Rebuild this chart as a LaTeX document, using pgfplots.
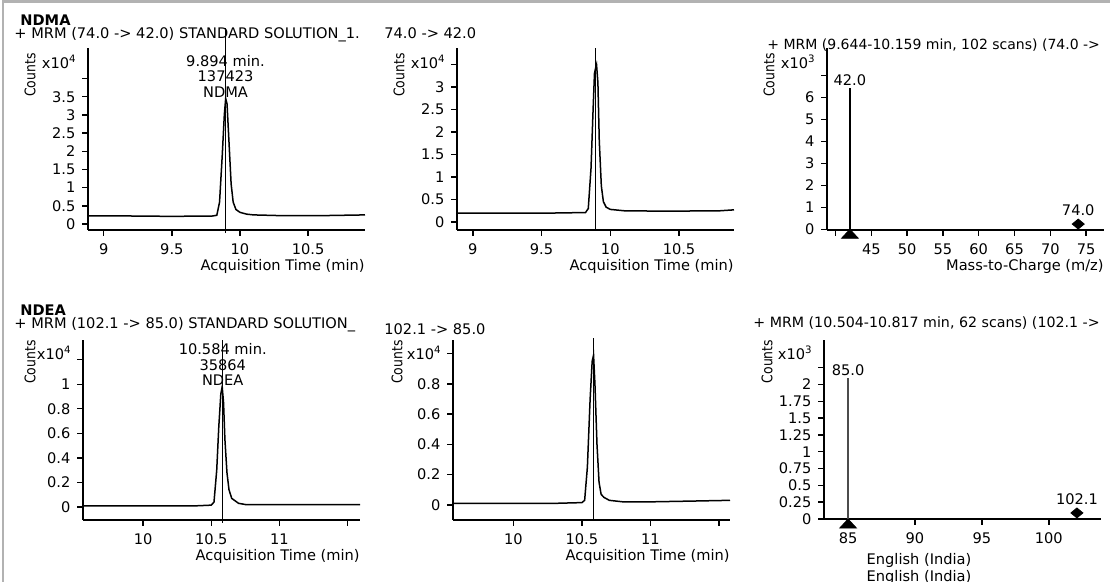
\documentclass[border=0pt]{standalone}
\usepackage{fontspec}
\setmainfont{DejaVu Sans}
\usepackage{graphicx}
\usepackage{pgfplots}
\pgfplotsset{compat=1.18}
\newcommand\fs{\fontsize{7.3pt}{7.6pt}\selectfont}
\pgfplotsset{
  ms/.style={
    anchor=south west, scale only axis, width=138.5pt,
    axis x line*=bottom, axis y line*=left,
    axis line style={-, line width=0.75pt},
    tick align=outside, major tick length=2.8pt,
    tick style={line width=0.7pt, black},
    ticklabel style={font=\fs},
    xticklabel style={yshift=-0.5pt},
    /pgf/number format/assume math mode=true,
    /pgf/number format/fixed, /pgf/number format/precision=2,
    scaled ticks=false,
    extra y tick labels={}, extra x tick labels={},
    clip=false,
    xlabel style={font=\fs, at={(axis description cs:1,0)}, anchor=east, inner sep=0pt, yshift=-18pt},
    ylabel={\scalebox{0.85}[1]{Counts}},
    ylabel style={font=\fs, at={([xshift=-29pt,yshift=-2.5pt]axis description cs:0,1)}, anchor=east, inner sep=0pt},
  },
  trace/.style={black, line width=0.75pt, mark=none},
}
\begin{document}
\begin{tikzpicture}
\useasboundingbox (0,0) rectangle (555pt,-291pt);
\draw[gray!60, line width=1.2pt] (1.5pt,-291pt) -- (1.5pt,-0.8pt) -- (555pt,-0.8pt);

% ---- NDMA quantifier
\begin{axis}[ms, at={(44pt,-115pt)}, height=91pt,
  xmin=8.885, xmax=10.917, ymin=-0.165, ymax=4.84,
  xtick={9,9.5,10,10.5}, ytick={0,0.5,1,1.5,2,2.5,3,3.5}, extra y ticks={4},
  xlabel={Acquisition Time (min)}]
\addplot[trace] coordinates {(8.885,0.22)(9.2,0.22)(9.5,0.21)(9.8,0.22)(9.83,0.24)(9.85,0.6)(9.87,1.9)(9.885,3.0)(9.895,3.45)(9.905,3.3)(9.92,2.2)(9.935,1.1)(9.95,0.6)(9.97,0.4)(10.0,0.32)(10.05,0.27)(10.1,0.25)(10.3,0.23)(10.6,0.23)(10.917,0.25)};
\addplot[trace] coordinates {(9.894,-0.25)(9.894,5.4)};
\node[font=\fs, align=center, anchor=south, inner sep=0.5pt] at (axis cs:9.894,3.45) {9.894 min.\\137423\\NDMA};
\node[font=\fs, anchor=east, inner sep=0pt] at ([xshift=-5.5pt,yshift=-7pt]axis description cs:0,1) {x10\textsuperscript{4}};
\end{axis}

% ---- NDMA qualifier
\begin{axis}[ms, at={(228.5pt,-115pt)}, height=91pt,
  xmin=8.885, xmax=10.9, ymin=-0.178, ymax=3.87,
  xtick={9,9.5,10,10.5}, ytick={0,0.5,1,1.5,2,2.5,3}, extra y ticks={3.5},
  xlabel={Acquisition Time (min)}]
\addplot[trace] coordinates {(8.885,0.20)(9.3,0.20)(9.6,0.20)(9.82,0.21)(9.84,0.3)(9.86,1.2)(9.875,2.5)(9.885,3.3)(9.893,3.42)(9.9,3.5)(9.91,3.1)(9.92,1.8)(9.935,0.8)(9.95,0.45)(9.97,0.33)(10.0,0.28)(10.1,0.25)(10.4,0.24)(10.8,0.25)(10.9,0.27)};
\addplot[trace] coordinates {(9.893,-0.178)(9.893,3.87)};
\node[font=\fs, anchor=east, inner sep=0pt] at ([xshift=-5.5pt,yshift=-7pt]axis description cs:0,1) {x10\textsuperscript{4}};
\end{axis}

% ---- NDMA spectrum
\begin{axis}[ms, at={(413.5pt,-115pt)}, height=91pt,
  xmin=38.8, xmax=77.5, ymin=-0.03, ymax=8.24,
  xtick={45,50,55,60,65,70,75}, extra x ticks={40},
  ytick={0,1,2,3,4,5,6}, extra y ticks={7},
  xlabel={Mass-to-Charge (m/z)}]
\addplot[trace] coordinates {(42.0,0)(42.0,6.4)};
\addplot[only marks, mark=triangle*, mark size=4pt, black, mark options={xscale=1.2, yscale=0.75}] coordinates {(42.0,-0.27)};
\addplot[only marks, mark=diamond*, mark size=4pt, black, mark options={yscale=0.62}] coordinates {(73.9,0.24)};
\node[font=\fs, anchor=south, inner sep=1pt] at (axis cs:42.0,6.4) {42.0};
\node[font=\fs, anchor=south, inner sep=1pt] at ([yshift=3pt]axis cs:73.9,0.24) {74.0};
\node[font=\fs, anchor=east, inner sep=0pt] at ([xshift=-5.5pt,yshift=-7pt]axis description cs:0,1) {x10\textsuperscript{3}};
\end{axis}

% ---- NDEA quantifier
\begin{axis}[ms, at={(41.5pt,-260pt)}, height=90pt,
  xmin=9.56, xmax=11.59, ymin=-0.106, ymax=1.36,
  xtick={10,10.5,11}, extra x ticks={11.5},
  ytick={0,0.2,0.4,0.6,0.8,1}, extra y ticks={1.2},
  xlabel={Acquisition Time (min)},
  ylabel style={at={([xshift=-26.5pt,yshift=0pt]axis description cs:0,1)}}]
\addplot[trace] coordinates {(9.56,0.01)(10.0,0.01)(10.4,0.01)(10.5,0.015)(10.52,0.04)(10.54,0.3)(10.555,0.65)(10.57,0.92)(10.58,0.98)(10.59,0.85)(10.6,0.55)(10.615,0.28)(10.63,0.14)(10.65,0.07)(10.7,0.03)(10.75,0.02)(11.0,0.02)(11.3,0.02)(11.59,0.02)};
\addplot[trace] coordinates {(10.584,-0.13)(10.584,1.36)};
\node[font=\fs, align=center, anchor=south, inner sep=0.5pt] at (axis cs:10.584,0.98) {10.584 min.\\35864\\NDEA};
\node[font=\fs, anchor=east, inner sep=0pt] at ([xshift=-5.5pt,yshift=-6.5pt]axis description cs:0,1) {x10\textsuperscript{4}};
\end{axis}

% ---- NDEA qualifier
\begin{axis}[ms, at={(226.5pt,-260pt)}, height=90pt,
  xmin=9.56, xmax=11.58, ymin=-0.1, ymax=1.09,
  xtick={10,10.5,11}, extra x ticks={11.5},
  ytick={0,0.2,0.4,0.6,0.8}, extra y ticks={1},
  xlabel={Acquisition Time (min)},
  ylabel style={at={([xshift=-28pt,yshift=0pt]axis description cs:0,1)}}]
\addplot[trace] coordinates {(9.56,0.01)(10.0,0.01)(10.3,0.01)(10.5,0.015)(10.52,0.03)(10.54,0.25)(10.56,0.7)(10.575,0.95)(10.585,0.99)(10.595,0.8)(10.61,0.4)(10.625,0.15)(10.64,0.07)(10.66,0.05)(10.7,0.03)(10.8,0.02)(11.0,0.02)(11.3,0.025)(11.58,0.03)};
\addplot[trace] coordinates {(10.584,-0.1)(10.584,1.1)};
\node[font=\fs, anchor=east, inner sep=0pt] at ([xshift=-5.5pt,yshift=-6.5pt]axis description cs:0,1) {x10\textsuperscript{4}};
\end{axis}

% ---- NDEA spectrum
\begin{axis}[ms, at={(412pt,-259.5pt)}, height=89.75pt,
  xmin=83.2, xmax=103.9, ymin=0, ymax=2.67,
  xtick={85,90,95,100},
  ytick={0,0.25,0.5,0.75,1,1.25,1.5,1.75,2}, extra y ticks={2.25},
  ylabel style={at={([xshift=-28.5pt,yshift=0pt]axis description cs:0,1)}}]
\addplot[trace, black!70] coordinates {(85.0,0)(85.0,2.1)};
\addplot[only marks, mark=triangle*, mark size=4pt, black, mark options={xscale=1.2, yscale=0.75}] coordinates {(85.0,-0.09)};
\addplot[only marks, mark=diamond*, mark size=4pt, black, mark options={yscale=0.62}] coordinates {(102.1,0.09)};
\node[font=\fs, anchor=south, inner sep=1pt] at (axis cs:85.0,2.1) {85.0};
\node[font=\fs, anchor=south, inner sep=1pt] at ([yshift=3pt]axis cs:102.1,0.09) {102.1};
\node[font=\fs, anchor=east, inner sep=0pt] at ([xshift=-5.5pt,yshift=-6.5pt]axis description cs:0,1) {x10\textsuperscript{3}};
\end{axis}

% ---- headers
\begin{scope}[every node/.style={font=\fs, inner sep=0pt}]
\node[anchor=west, font=\fs\bfseries] at (10pt,-10pt) {NDMA};
\node[anchor=west] at (7pt,-17.5pt) {+ MRM (74.0 -> 42.0) STANDARD SOLUTION\_1.};
\node[anchor=west] at (192pt,-16.5pt) {74.0 -> 42.0};
\node[anchor=west, font=\fontsize{7pt}{7.6pt}\selectfont] at (383.5pt,-22.5pt) {+ MRM (9.644-10.159 min, 102 scans) (74.0 ->};
\node[anchor=west, font=\fs\bfseries] at (10pt,-155pt) {NDEA};
\node[anchor=west] at (7pt,-162.5pt) {+ MRM (102.1 -> 85.0) STANDARD SOLUTION\_};
\node[anchor=west] at (192pt,-164.5pt) {102.1 -> 85.0};
\node[anchor=west, font=\fontsize{7.1pt}{7.6pt}\selectfont] at (376.5pt,-161.5pt) {+ MRM (10.504-10.817 min, 62 scans) (102.1 ->};
\node at (459.5pt,-280pt) {English (India)};
\node at (459.5pt,-288.5pt) {English (India)};
\end{scope}
\end{tikzpicture}
\end{document}
